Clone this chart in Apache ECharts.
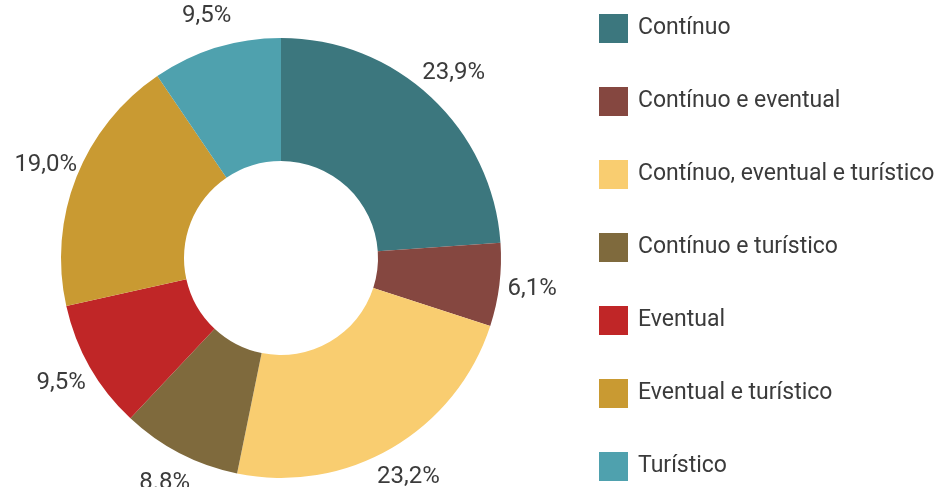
<!DOCTYPE html>
<html>
<head>
<meta charset="utf-8">
<script src="https://cdn.jsdelivr.net/npm/echarts@6/dist/echarts.min.js"></script>
<style>
html,body{margin:0;padding:0;background:#fff;}
#chart{width:936px;height:487px;}
</style>
</head>
<body>
<div id="chart"></div>
<script>
var categories = ["Contínuo", "Contínuo e eventual", "Contínuo, eventual e turístico", "Contínuo e turístico", "Eventual", "Eventual e turístico", "Turístico"];
var values = [23.9, 6.1, 23.2, 8.8, 9.5, 19.0, 9.5];
var valueLabels = ["23,9%", "6,1%", "23,2%", "8.8%", "9,5%", "19,0%", "9,5%"];
var colors = ["#3c777e", "#854740", "#f9cd70", "#7f6a3d", "#c02627", "#c99a32", "#4fa1ae"];

var FONT = "Roboto, 'Liberation Sans', sans-serif";
var TEXT = '#3b3b3b';
var chart = echarts.init(document.getElementById('chart'));
var slices = categories.map(function (c, i) {
  return { name: c, value: values[i], itemStyle: { color: colors[i] } };
});
var labelRing = categories.map(function (c, i) {
  return { name: c, value: values[i], label: { formatter: valueLabels[i] } };
});
chart.setOption({
  animation: false,
  backgroundColor: '#ffffff',
  legend: {
    orient: 'vertical',
    left: 599,
    top: 14,
    padding: 0,
    itemWidth: 29,
    itemHeight: 29,
    itemGap: 44,
    icon: 'rect',
    selectedMode: false,
    data: categories,
    textStyle: { fontFamily: FONT, fontSize: 23, lineHeight: 29, color: TEXT, padding: [0, 0, 0, 5] }
  },
  series: [{
    type: 'pie',
    center: [281, 258],
    radius: [97, 220],
    startAngle: 90,
    clockwise: true,
    label: { show: false },
    labelLine: { show: false },
    emphasis: { disabled: true },
    silent: true,
    data: slices
  }, {
    type: 'pie',
    center: [281, 258],
    radius: [226, 274],
    startAngle: 90,
    clockwise: true,
    silent: true,
    emphasis: { disabled: true },
    itemStyle: { color: 'rgba(0,0,0,0)', borderWidth: 0 },
    label: {
      show: true,
      position: 'inside',
      fontFamily: FONT,
      fontSize: 24,
      color: TEXT
    },
    labelLine: { show: false },
    data: labelRing
  }]
});
</script>
</body>
</html>
